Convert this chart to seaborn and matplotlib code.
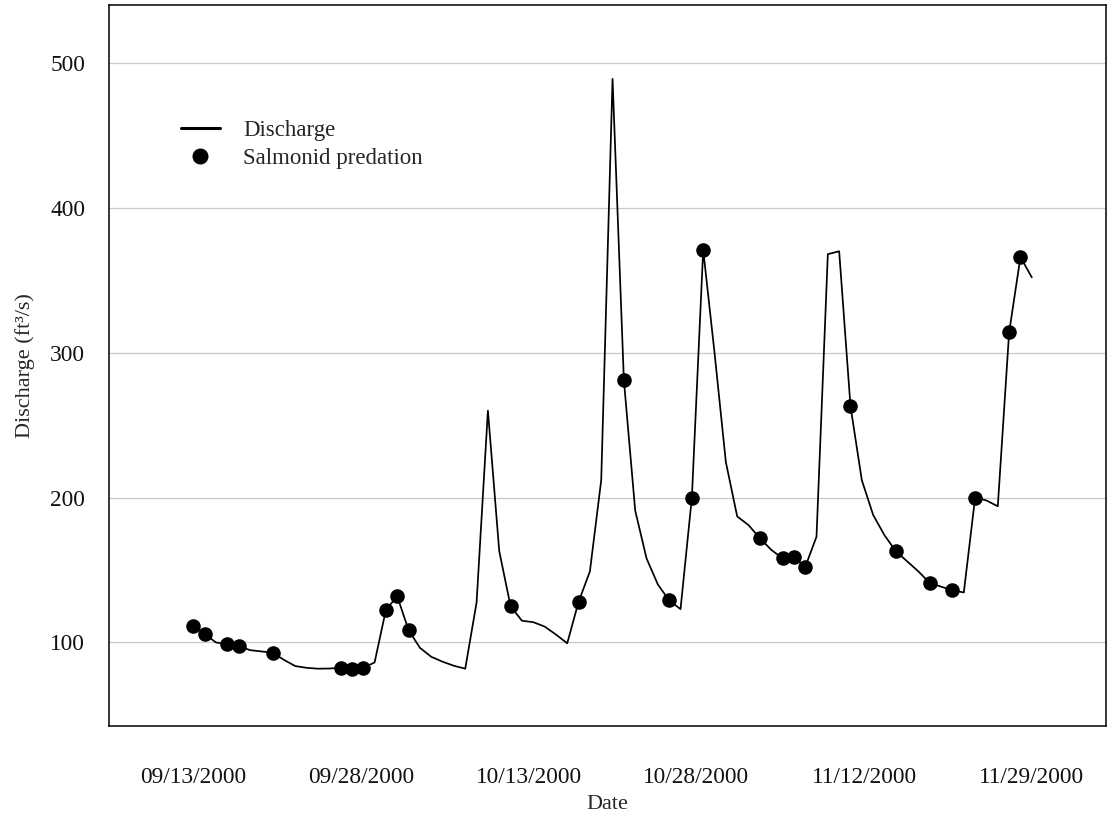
import matplotlib
matplotlib.use("Agg")
import matplotlib.pyplot as plt
from matplotlib.lines import Line2D
import seaborn as sns
import numpy as np
import pandas as pd

# ---- data ----
discharge = [111.5, 105.8, 100.0, 98.9, 97.7, 94.7, 93.8, 92.9, 88.0, 83.7,
             82.5, 81.9, 82.0, 82.5, 81.8, 82.5, 86.2, 122.6, 131.8, 108.5,
             96.3, 90.1, 86.7, 83.9, 81.9, 127.6, 260.0, 163.0, 125.0, 115.0,
             114.0, 111.0, 105.5, 99.4, 128.0, 149.0, 212.0, 489.0, 281.0, 191.0,
             158.0, 140.0, 129.0, 123.0, 200.0, 371.0, 300.0, 224.5, 187.0, 181.0,
             172.0, 164.0, 158.0, 159.0, 152.0, 173.0, 368.0, 370.0, 263.0, 212.0,
             188.0, 174.0, 163.0, 156.0, 149.0, 141.0, 138.5, 136.0, 134.5, 200.0,
             198.0, 194.0, 314.0, 366.0, 352.0]
predation_days = [0, 1, 3, 4, 7, 13, 14, 15, 17, 18, 19, 28, 34, 38, 42, 44,
                  45, 50, 52, 53, 54, 58, 62, 65, 67, 69, 72, 73]
tick_labels = ["09/13/2000", "09/28/2000", "10/13/2000", "10/28/2000",
               "11/12/2000", "11/29/2000"]
y_ticks = [100, 200, 300, 400, 500]

day_index = np.arange(len(discharge))
df_line = pd.DataFrame({"day": day_index, "discharge": discharge})
df_pts = pd.DataFrame({"day": predation_days,
                       "discharge": [discharge[d] for d in predation_days]})

# ---- style ----
sns.set_style("white")
plt.rcParams["font.family"] = ["Liberation Serif", "DejaVu Serif"]
plt.rcParams["axes.edgecolor"] = "black"

fig = plt.figure(figsize=(11.1, 8.16), dpi=100)
ax = fig.add_axes([0.0979, 0.1097, 0.8985, 0.8842])

ax.yaxis.grid(True, color="#c8c8c8", linewidth=0.9)
ax.xaxis.grid(False)
ax.set_axisbelow(True)

sns.lineplot(data=df_line, x="day", y="discharge", ax=ax, color="black",
             linewidth=1.25, legend=False)
sns.scatterplot(data=df_pts, x="day", y="discharge", ax=ax, color="black",
                s=110, edgecolor="black", linewidth=0, zorder=3, legend=False)

n = len(discharge)
ax.set_xticks(np.linspace(0, n - 1, len(tick_labels)))
ax.set_xticklabels(tick_labels)
ax.set_yticks(y_ticks)
ax.set_xlim(-7.47, 80.55)
ax.set_ylim(42, 540)

for s in ax.spines.values():
    s.set_visible(True)
    s.set_color("black")
    s.set_linewidth(1.1)

ax.tick_params(axis="both", which="major", direction="out", length=8.5,
               width=0.9, color="#444444", labelsize=16.8, labelcolor="#111111")
ax.tick_params(axis="x", pad=21)
ax.tick_params(axis="y", pad=8.5)

ax.set_xlabel("Date", fontsize=16, labelpad=5)
ax.set_ylabel("Discharge (ft\u00b3/s)", fontsize=16, labelpad=11)

handles = [Line2D([], [], color="black", linewidth=2.2),
           Line2D([], [], color="black", marker="o", linestyle="none",
                  markersize=10.5)]
ax.legend(handles, ["Discharge", "Salmonid predation"], loc="upper left",
          bbox_to_anchor=(0.0725, 0.841), frameon=False, fontsize=16.5,
          borderaxespad=0, borderpad=0, handlelength=1.7, handletextpad=1.0,
          labelspacing=0.3)

fig.savefig("out.png", dpi=100)
